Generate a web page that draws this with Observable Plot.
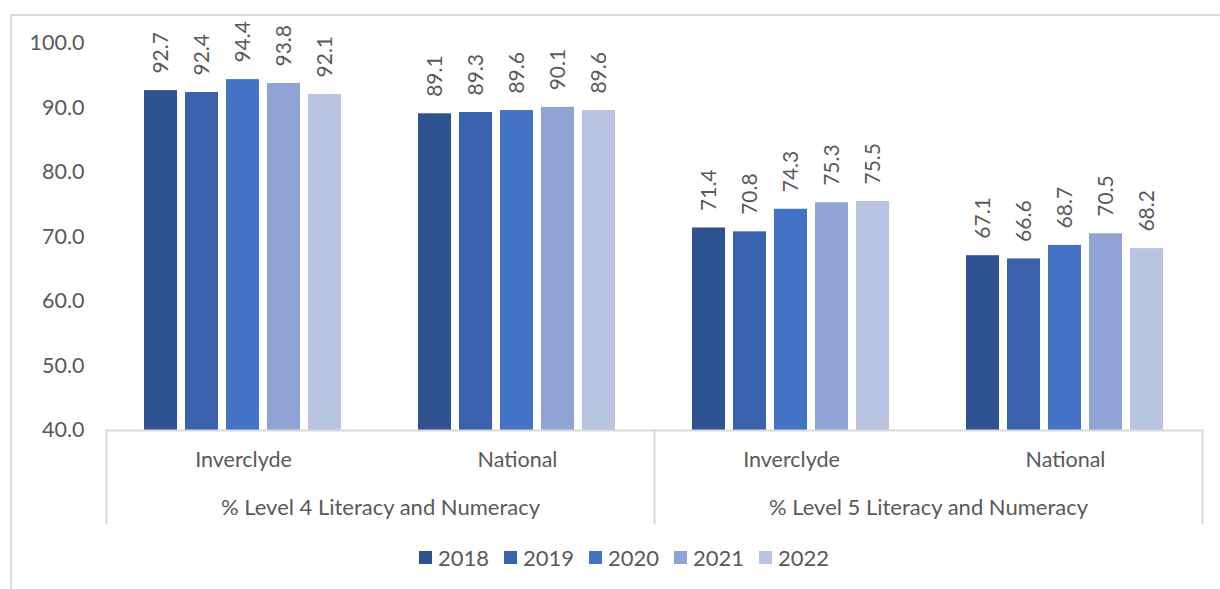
<!DOCTYPE html>
<html>
<head>
<meta charset="utf-8">
<script src="https://cdn.jsdelivr.net/npm/d3@7"></script>
<script src="https://cdn.jsdelivr.net/npm/@observablehq/plot@0.6"></script>
<style>
  html, body { margin: 0; padding: 0; background: #fff; }
  body { width: 1220px; height: 589px; overflow: hidden; position: relative; font-family: Lato, "Open Sans", sans-serif; }
  #border { position: absolute; left: 10px; top: 14px; width: 1240px; height: 600px; border-left: 2px solid #d9d9d9; border-top: 2px solid #d9d9d9; box-sizing: border-box; }
  #chart { position: absolute; left: 0; top: 0; }
  #legend { position: absolute; left: 0; top: 544px; width: 1248px; display: flex; justify-content: center; align-items: center; gap: 15px; font-size: 22px; color: #595959; }
  .item { display: flex; align-items: center; gap: 6px; }
  .sw { width: 13px; height: 13px; display: inline-block; }
</style>
</head>
<body>
<div id="border"></div>
<div id="chart"></div>
<div id="legend"></div>
<script>
// ---- data ----
const groups = ["% Level 4 Literacy and Numeracy", "% Level 5 Literacy and Numeracy"];
const areas = ["Inverclyde", "National"];
const years = ["2018", "2019", "2020", "2021", "2022"];
const level4Inverclyde = [92.7, 92.4, 94.4, 93.8, 92.1];
const level4National   = [89.1, 89.3, 89.6, 90.1, 89.6];
const level5Inverclyde = [71.4, 70.8, 74.3, 75.3, 75.5];
const level5National   = [67.1, 66.6, 68.7, 70.5, 68.2];
const yTicks = [40, 50, 60, 70, 80, 90, 100];
const colors = ["#2F5391", "#3A62AC", "#4472C4", "#8FA4D4", "#B9C3E2"];

const seriesList = [
  {group: groups[0], area: areas[0], values: level4Inverclyde},
  {group: groups[0], area: areas[1], values: level4National},
  {group: groups[1], area: areas[0], values: level5Inverclyde},
  {group: groups[1], area: areas[1], values: level5National}
];
const keys = seriesList.map(s => s.group + "|" + s.area);
const rows = seriesList.flatMap(s => s.values.map((v, i) => ({key: s.group + "|" + s.area, area: s.area, group: s.group, year: years[i], value: v})));
const groupLabels = [{key: keys[0], label: groups[0]}, {key: keys[2], label: groups[1]}];

const textColor = "#595959";
const lineColor = "#d9d9d9";

const chart = Plot.plot({
  width: 1220,
  height: 535,
  marginLeft: 105,
  marginRight: 17,
  marginTop: 43,
  marginBottom: 105,
  style: {fontFamily: "Lato, 'Open Sans', sans-serif", color: textColor, background: "transparent"},
  fx: {domain: keys, padding: 0, label: null},
  x: {domain: years, paddingInner: 0.19, paddingOuter: 0.857, axis: null},
  y: {domain: [40, 100], label: null},
  color: {domain: years, range: colors},
  marks: [
    Plot.barY(rows, {fx: "key", x: "year", y1: 40, y2: "value", fill: "year"}),
    Plot.text(rows, {fx: "key", x: "year", y: "value", text: d => d.value.toFixed(1), rotate: -90, textAnchor: "start", lineAnchor: "middle", dy: -17, fontSize: 21, fill: textColor}),
    Plot.ruleY([40], {stroke: lineColor, strokeWidth: 2}),
    Plot.frame({anchor: "left", fx: () => keys[0], insetTop: 387, insetBottom: -93, stroke: lineColor, strokeWidth: 2}),
    Plot.frame({anchor: "left", fx: () => keys[2], insetTop: 387, insetBottom: -93, stroke: lineColor, strokeWidth: 2}),
    Plot.frame({anchor: "right", fx: () => keys[3], insetTop: 387, insetBottom: -93, stroke: lineColor, strokeWidth: 2}),
    Plot.axisY({ticks: yTicks, tickFormat: d => d.toFixed(1), tickSize: 0, tickPadding: 22, fontSize: 21.5, fill: textColor, label: null}),
    Plot.axisFx({anchor: "bottom", tickSize: 0, tickPadding: 21, tickFormat: k => k.split("|")[1], fontSize: 21.5, fill: textColor, label: null}),
    Plot.text(groupLabels, {fx: "key", text: "label", frameAnchor: "bottom-right", textAnchor: "middle", lineAnchor: "middle", dy: 77, fontSize: 22, fill: textColor})
  ]
});
document.getElementById("chart").appendChild(chart);

const legend = document.getElementById("legend");
years.forEach((y, i) => {
  const item = document.createElement("span");
  item.className = "item";
  const sw = document.createElement("span");
  sw.className = "sw";
  sw.style.background = colors[i];
  const t = document.createElement("span");
  t.textContent = y;
  item.appendChild(sw);
  item.appendChild(t);
  legend.appendChild(item);
});
</script>
</body>
</html>
